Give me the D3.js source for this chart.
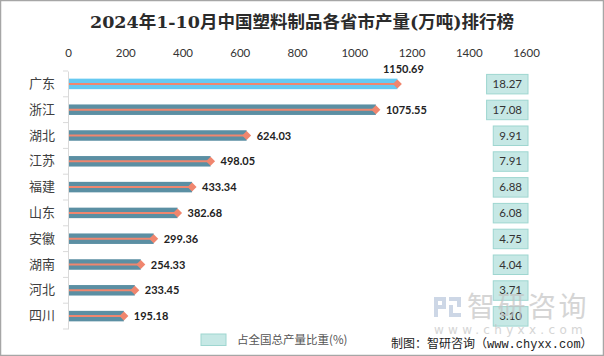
<!DOCTYPE html>
<html><head><meta charset="utf-8">
<script src="https://cdn.jsdelivr.net/npm/d3@7"></script>
<style>
html,body{margin:0;padding:0;background:#fff;}
svg{display:block;}
</style></head>
<body>
<script>
const categories = ["广东","浙江","湖北","江苏","福建","山东","安徽","湖南","河北","四川"];
const production = [1150.69,1075.55,624.03,498.05,433.34,382.68,299.36,254.33,233.45,195.18];
const share = ["18.27","17.08","9.91","7.91","6.88","6.08","4.75","4.04","3.71","3.10"];
const xTicks = [0,200,400,600,800,1000,1200,1400,1600];
const title = "2024年1-10月中国塑料制品各省市产量(万吨)排行榜";
const legendLabel = "占全国总产量比重(%)";
const credit = "制图：智研咨询（www.chyxx.com）";

const W = 604, H = 356;
const svg = d3.select("body").append("svg").attr("width", W).attr("height", H);
svg.append("rect").attr("x",0.5).attr("y",0.5).attr("width",W-1).attr("height",H-1)
  .attr("fill","#fff").attr("stroke","#a6a6a6").attr("stroke-width",1.5);

const numFont = "Lato, 'Open Sans', sans-serif";
const cjkFont = "'Noto Sans CJK SC', sans-serif";

svg.append("text").attr("x", 302).attr("y", 28).attr("text-anchor","middle")
  .attr("font-family","'DejaVu Serif','Liberation Serif','Noto Sans CJK SC',serif")
  .attr("font-weight","bold").attr("font-size",17.5).attr("fill","#2b2b2b").text(title);

const x = d3.scaleLinear().domain([0,1600]).range([68,526]);
const y = d3.scaleBand().domain(categories).range([71,329]);

// top axis labels
const xAxis = svg.append("g").attr("transform","translate(0,57)")
  .call(d3.axisTop(x).tickValues(xTicks).tickFormat(d3.format("d")).tickSize(0).tickPadding(0));
xAxis.select(".domain").remove();
xAxis.selectAll("text").attr("font-family",numFont).attr("font-size",11.5).attr("fill","#333");

// left axis
const yAxis = svg.append("g").attr("transform","translate(68,0)")
  .call(d3.axisLeft(y).tickSize(0).tickPadding(13));
yAxis.select(".domain").attr("stroke","#d9d9d9");
yAxis.selectAll("text").attr("font-family",cjkFont).attr("font-size",13).attr("fill","#404040");
// boundary ticks
const bounds = categories.map(c => y(c)).concat([y.range()[1]]);
svg.append("g").selectAll("line").data(bounds).join("line")
  .attr("x1",63).attr("x2",68).attr("y1",d=>d).attr("y2",d=>d).attr("stroke","#d9d9d9");

const bh = 10.5;
const g = svg.append("g");
categories.forEach((c,i)=>{
  const cy = y(c) + y.bandwidth()/2;
  const xe = x(production[i]);
  g.append("rect").attr("x",x(0)+1).attr("y",cy-bh/2).attr("width",xe-x(0)-1).attr("height",bh)
    .attr("fill", i===0 ? "#66c9f1" : "#5b8fa3");
  g.append("line").attr("x1",x(0)+1).attr("x2",xe).attr("y1",cy).attr("y2",cy)
    .attr("stroke","#f0866e").attr("stroke-width",2);
  g.append("path").attr("d",`M${xe-4.5},${cy}L${xe},${cy-4.5}L${xe+4.5},${cy}L${xe},${cy+4.5}Z`)
    .attr("fill","#f0866e");
  const lbl = g.append("text").attr("font-family",numFont).attr("font-weight","bold")
    .attr("font-size",11).attr("fill","#222").text(production[i].toFixed(2));
  if (i===0) {
    lbl.attr("x", xe+6).attr("y", cy-11).attr("text-anchor","middle");
  } else {
    lbl.attr("x", xe+10).attr("y", cy+4);
  }
  // share box
  const t = g.append("text").attr("font-family",numFont).attr("font-size",11.5).attr("fill","#333")
    .attr("text-anchor","middle").text(share[i]);
  const tw = t.node().getComputedTextLength();
  const bw = tw + 12;
  g.insert("rect", () => t.node()).attr("x",528-bw).attr("y",cy-9.5).attr("width",bw).attr("height",19.5)
    .attr("fill","#c6e8e5").attr("stroke","#9ed6d0").attr("stroke-width",1);
  t.attr("x",528-bw/2).attr("y",cy+4);
});

// watermark
const wm = svg.append("g").attr("opacity",0.7);
const lc = "#b8c7dc";
[[434,297,12,4],[434,297,4,20],[442,297,4,12],[438,305,8,4],
 [449,297,12,4],[457,297,4,10],[449,313,12,4],[449,305,4,10]].forEach(r=>{
  wm.append("rect").attr("x",r[0]).attr("y",r[1]).attr("width",r[2]).attr("height",r[3]).attr("fill",lc);
});
wm.append("text").attr("x",467).attr("y",317).attr("font-family",cjkFont).attr("font-size",28)
  .attr("letter-spacing",2.5).attr("fill","#c4c4c4").text("智研咨询");
wm.append("text").attr("x",434).attr("y",334).attr("font-family","'DejaVu Sans',sans-serif").attr("font-size",12)
  .attr("letter-spacing",4.3).attr("fill","#c4c4c4").text("www.chyxx.com");

// legend
svg.append("rect").attr("x",201).attr("y",334).attr("width",25).attr("height",11.5)
  .attr("fill","#c6e8e5").attr("stroke","#9ed6d0");
svg.append("text").attr("x",237).attr("y",344).attr("font-family",cjkFont).attr("font-size",11.5)
  .attr("fill","#555").text(legendLabel);
svg.append("text").attr("x",391).attr("y",348).attr("font-family","'Liberation Mono','Noto Sans CJK SC',monospace").attr("font-size",12)
  .attr("fill","#222").text(credit);
</script>
</body></html>
